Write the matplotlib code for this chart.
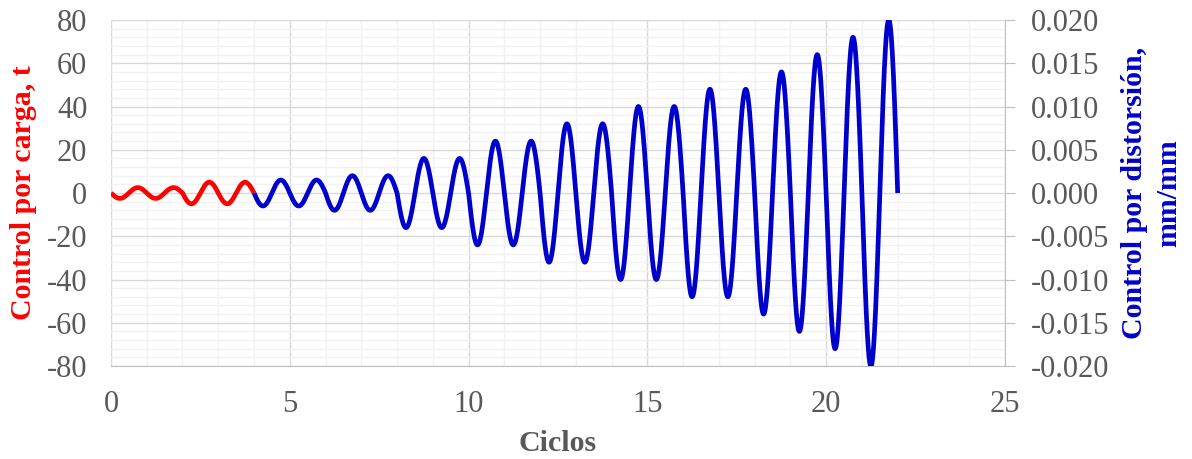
import matplotlib
matplotlib.use("Agg")
import matplotlib.pyplot as plt
import numpy as np

plt.rcParams['font.family'] = ['Liberation Serif', 'DejaVu Serif']
plt.rcParams['axes.unicode_minus'] = False

# protocolo de carga: amplitud de cada ciclo
ciclos_carga = [0, 1, 2, 3]                      # inicio de cada ciclo
amp_carga = [2.5, 2.5, 5, 5]                      # t
ciclos_dist = list(range(4, 22))
amp_dist = [0.0015, 0.0015, 0.002, 0.002, 0.004, 0.004, 0.006, 0.006,
            0.008, 0.008, 0.010, 0.010, 0.012, 0.012, 0.014, 0.016,
            0.018, 0.020]                         # mm/mm

def senal(inicios, amps, n=200):
    xs, ys = [], []
    for c0, a in zip(inicios, amps):
        t = np.linspace(0, 1, n)
        xs.append(c0 + t)
        ys.append(-a * np.sin(2 * np.pi * t))
    return np.concatenate(xs), np.concatenate(ys)

xc, yc = senal(ciclos_carga, amp_carga)
xd, yd = senal(ciclos_dist, amp_dist)

gris = '#595959'
fig = plt.figure(figsize=(11.92, 4.59), dpi=100)
ax = fig.add_axes([0.0931, 0.2026, 0.75, 0.7538])
ax2 = ax.twinx()

ax.plot(xc, yc, color='#FF0000', lw=3.4, solid_capstyle='butt', zorder=3)
ax2.plot(xd, yd, color='#0000CC', lw=3.4, solid_capstyle='butt', zorder=3)

ax.set_xlim(0, 25)
ax.set_ylim(-80, 80)
ax2.set_ylim(-0.020, 0.020)
ax.set_xticks(np.arange(0, 26, 5))
ax.set_xticks(np.arange(0, 26, 1), minor=True)
ax.set_yticks(np.arange(-80, 81, 20))
ax.set_yticks(np.arange(-80, 81, 4), minor=True)
ax2.set_yticks(np.linspace(-0.020, 0.020, 9))
ax2.set_yticklabels(['%.3f' % v for v in np.linspace(-0.020, 0.020, 9)])

ax.grid(which='minor', color='#F2F2F2', lw=1.0)
ax.grid(which='major', color='#D9D9D9', lw=1.0)
ax.set_axisbelow(True)

for a in (ax, ax2):
    for s in a.spines.values():
        s.set_visible(False)
ax.spines['bottom'].set_visible(True)
ax.spines['bottom'].set_color('#BFBFBF')
ax2.spines['right'].set_visible(True)
ax2.spines['right'].set_color('#BFBFBF')

ax.tick_params(axis='both', which='both', length=0, labelsize=22, labelcolor=gris)
ax.tick_params(axis='x', pad=17)
ax.tick_params(axis='y', pad=17)
ax2.tick_params(axis='y', which='major', length=7, color='#BFBFBF',
                labelsize=22, labelcolor=gris, pad=12)

ax.set_xlabel('Ciclos', fontsize=21.5, fontweight='bold', color=gris, labelpad=8)
ax.set_ylabel('Control por carga, t', fontsize=21.5, fontweight='bold',
              color='#FF0000', labelpad=7)
ax2.set_ylabel('Control por distorsión,\nmm/mm', fontsize=21.5, fontweight='bold',
               color='#0000CC', labelpad=8, linespacing=1.35)

fig.savefig('out.png', dpi=100)
